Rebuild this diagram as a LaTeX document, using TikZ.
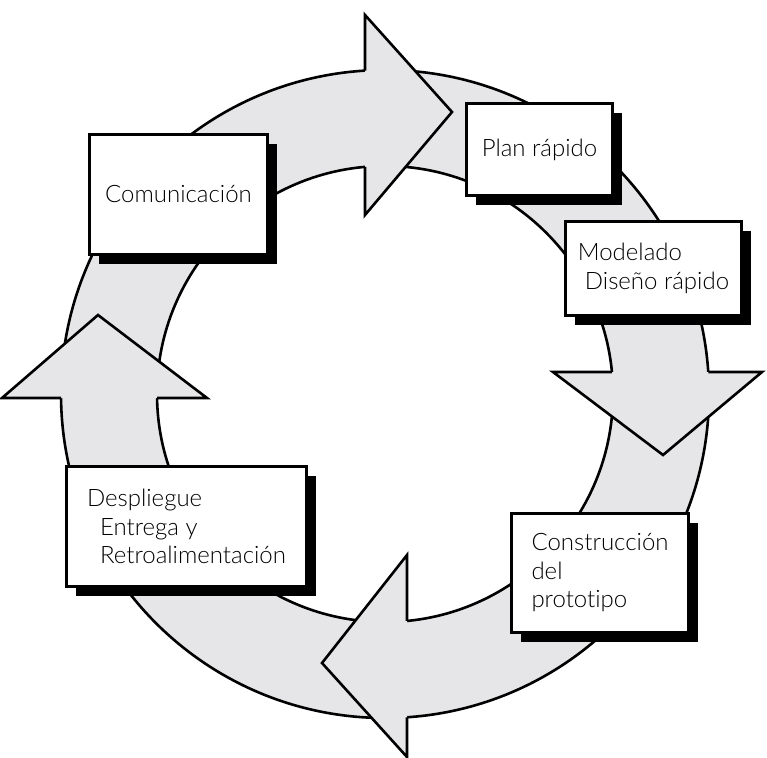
\documentclass[tikz,border=0pt]{standalone}
\usepackage{fontspec}
\setmainfont{Lato}[UprightFont=* Light, Ligatures=NoCommon]
\usepackage{tikz}
\usepackage{xcolor}
\usetikzlibrary{shadows}

\definecolor{anillo}{RGB}{230,230,232}
\tikzset{
  caja/.style={draw, line width=2.8pt, fill=white, inner sep=0pt, align=left,
    font=\fontsize{24}{28.5}\selectfont,
    drop shadow={shadow xshift=9pt, shadow yshift=-9pt, fill=black, opacity=1}},
  borde/.style={line width=2.6pt, line join=miter}
}

\begin{document}
\begin{tikzpicture}[x=1pt, y=-1pt]
                \useasboundingbox (0,0) rectangle (767,757);

                % anillo
                \path[fill=anillo, draw, borde, even odd rule]
                    (385,394) circle[radius=324] (385,394) circle[radius=228];

                % puntas de flecha
                \fill[anillo] (365,70.6) -- (365,15) -- (452,112) -- (365,215) -- (365,166.9) -- cycle;
                \draw[borde] (365,70.6) -- (365,15) -- (452,112) -- (365,215) -- (365,166.9);
                \fill[anillo] (708.3,372) -- (762,372) -- (663,455) -- (553,372) -- (611.9,372) -- cycle;
                \draw[borde] (708.3,372) -- (762,372) -- (663,455) -- (553,372) -- (611.9,372);
                \fill[anillo] (407,717.3) -- (407,757) -- (322,663) -- (407,555) -- (407,620.9) -- cycle;
                \draw[borde] (407,717.3) -- (407,757) -- (322,663) -- (407,555) -- (407,620.9);
                \fill[anillo] (61,398) -- (2,398) -- (98,315) -- (207,398) -- (157,398) -- cycle;
                \draw[borde] (61,398) -- (2,398) -- (98,315) -- (207,398) -- (157,398);

                % fases
                \node [caja, minimum width=178pt, minimum height=120pt] (com) at (178.5,194.5) {Comunicación};
                \node [caja, minimum width=146pt, minimum height=92pt] (plan) at (539.5,149.5) {Plan rápido};
                \node [caja, minimum width=176pt, minimum height=94pt] (mod) at (653.5,268.5) {Modelado\\\hspace*{7pt}Diseño rápido};
                \node [caja, minimum width=177pt, minimum height=119pt] (cons) at (600,573) {Construcción\\del\\prototipo};
                \node [caja, minimum width=240pt, minimum height=120pt] (desp) at (186.5,526.5) {Despliegue\\\hspace*{13pt}Entrega y\\\hspace*{13pt}Retroalimentación};
            \end{tikzpicture}
\end{document}
